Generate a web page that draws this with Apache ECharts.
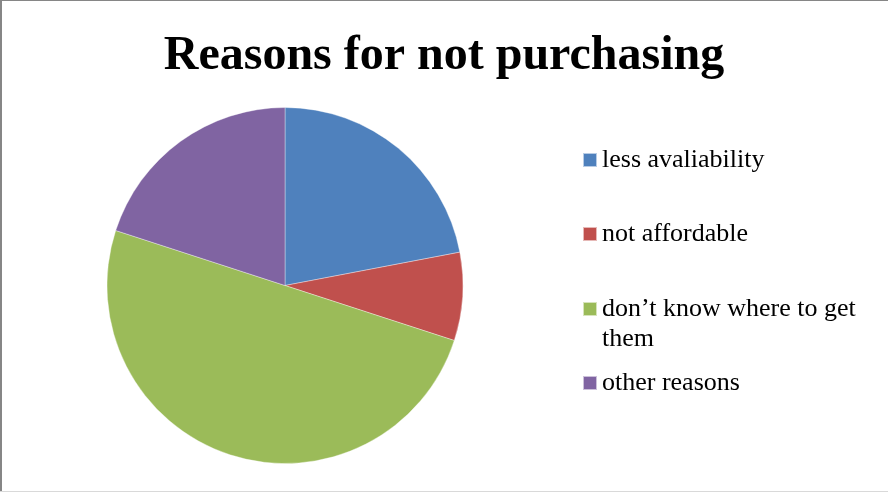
<!DOCTYPE html>
<html>
<head>
<meta charset="utf-8">
<title>Reasons for not purchasing</title>
<script src="https://cdn.jsdelivr.net/npm/echarts@6/dist/echarts.min.js"></script>
<style>
  html, body { margin: 0; padding: 0; background: #ffffff; }
  #chart { width: 888px; height: 492px; }
</style>
</head>
<body>
<div id="chart"></div>
<script>
// Survey answers: why respondents did not purchase
const categories = [
  'less avaliability',
  'not affordable',
  'don’t know where to get them',
  'other reasons'
];
const shares = [22, 8, 50, 20];
const sliceColors = ['#4F81BD', '#C0504D', '#9BBB59', '#8064A2'];
// How each legend entry is written; the long one wraps onto a second line
const legendLines = [
  ['less avaliability'],
  ['not affordable'],
  ['don’t know where to get', 'them'],
  ['other reasons']
];

const serif = "'Liberation Serif', 'Times New Roman', serif";
const legendCenters = [160, 234, 309, 383];
const legendLineHeight = 30;

const chart = echarts.init(document.getElementById('chart'), null, { renderer: 'canvas' });

// The key is centred on the label block, so a wrapped label gets blank
// lines above it to keep its first line level with the colour key.
const legends = categories.map(function (name, i) {
  const lines = legendLines[i];
  const pad = lines.length - 1;
  const text = new Array(pad).fill(' ').concat(lines).join('\n');
  const blockHalf = (2 * pad + 1) * legendLineHeight / 2;
  return {
    orient: 'vertical',
    left: 582,
    top: legendCenters[i] - blockHalf,
    padding: 0,
    itemWidth: 14,
    itemHeight: 14,
    icon: 'rect',
    selectedMode: false,
    data: [name],
    formatter: function () { return text; },
    textStyle: {
      fontFamily: serif,
      fontSize: 26,
      color: '#000000',
      lineHeight: legendLineHeight
    }
  };
});

chart.setOption({
  animation: false,
  backgroundColor: '#ffffff',
  color: sliceColors,
  title: {
    text: 'Reasons for not purchasing',
    left: 'center',
    top: 33,
    padding: 0,
    textStyle: {
      fontFamily: serif,
      fontWeight: 'bold',
      fontSize: 48,
      lineHeight: 48,
      color: '#000000'
    }
  },
  legend: legends,
  graphic: [
    { type: 'rect', shape: { x: 0, y: 0, width: 2, height: 492 }, style: { fill: '#868686' }, silent: true },
    { type: 'rect', shape: { x: 0, y: 0, width: 888, height: 1 }, style: { fill: '#868686' }, silent: true },
    { type: 'rect', shape: { x: 0, y: 491, width: 888, height: 1 }, style: { fill: '#d9d9d9' }, silent: true }
  ],
  series: [{
    type: 'pie',
    center: [285, 285.5],
    radius: 178,
    startAngle: 90,
    clockwise: true,
    label: { show: false },
    labelLine: { show: false },
    emphasis: { disabled: true },
    itemStyle: { borderColor: 'rgba(255,255,255,0.6)', borderWidth: 0.6 },
    data: categories.map(function (name, i) {
      return { name: name, value: shares[i] };
    })
  }]
});
</script>
</body>
</html>
